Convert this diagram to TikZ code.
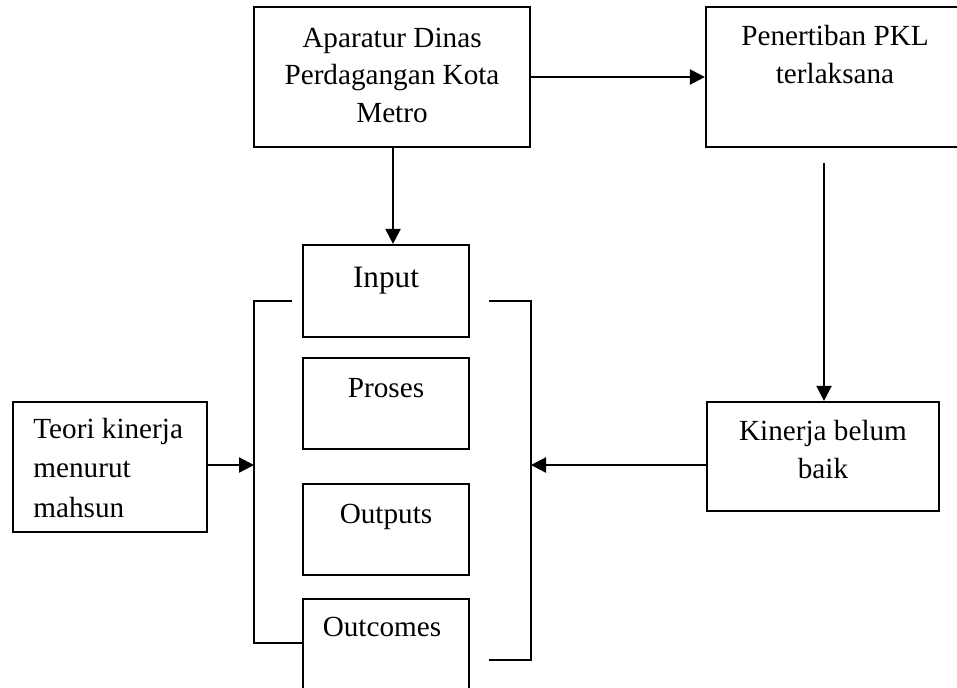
\documentclass[tikz,border=0pt]{standalone}
\usepackage{fontspec}
\setmainfont{Liberation Serif}
\usetikzlibrary{arrows.meta}
\begin{document}
\begin{tikzpicture}[x=0.5pt,y=-0.5pt,
  box/.style={draw,line width=1.1pt,rectangle,inner sep=0pt},
  txt/.style={inner sep=0pt,anchor=base,font=\fontsize{14.6pt}{18.75pt}\selectfont},
  big/.style={font=\fontsize{15.6pt}{18.75pt}\selectfont},
  arr/.style={line width=1.1pt,-{Triangle[length=7.5pt,width=7.5pt]}},
  ln/.style={line width=1.1pt}]
\useasboundingbox (0,0) rectangle (957,687);
\clip (0,0) rectangle (957,687);
% boxes
\node[box,minimum width=138pt,minimum height=70pt] (apar) at (392,77) {};
\node[box,minimum width=129pt,minimum height=70pt] (pen) at (835,77) {};
\node[box,minimum width=83pt,minimum height=46pt] (inp) at (386,291) {};
\node[box,minimum width=83pt,minimum height=45.5pt] (pro) at (386,403.5) {};
\node[box,minimum width=83pt,minimum height=45.5pt] (outp) at (386,529.5) {};
\node[box,minimum width=83pt,minimum height=60pt] (outc) at (386,659) {};
\node[box,minimum width=97pt,minimum height=65pt] (teori) at (110,467) {};
\node[box,minimum width=116pt,minimum height=54.5pt] (kin) at (823,456.5) {};
% texts (base anchor = last line baseline)
\node[txt,align=center] (apart) at (392,122) {Aparatur Dinas\\Perdagangan Kota\\Metro};
\node[txt,align=center] (pent) at (835,83) {Penertiban PKL\\terlaksana};
\node[txt,big] (inpt) at (386,287) {Input};
\node[txt] (prot) at (386,397) {Proses};
\node[txt] (outpt) at (386,523) {Outputs};
\node[txt] (outct) at (382,636) {Outcomes};
\node[txt,align=left,anchor=base west,font=\fontsize{14.6pt}{19.75pt}\selectfont] (teorit) at (33,517) {Teori kinerja\\menurut\\mahsun};
\node[txt,align=center] (kint) at (823,478) {Kinerja belum\\baik};
% brackets
\coordinate (lbt) at (292,301);
\coordinate (lb) at (254,465);
\coordinate (rbt) at (489,301);
\coordinate (rb) at (531,465);
\coordinate (rbb) at (489,660);
\draw[ln] (lbt) -- (254,301) -- (254,643) -- (outc.west |- 0,643);
\draw[ln] (rbt) -- (531,301) -- (531,660) -- (rbb);
% connectors
\draw[arr] (apar.east) -- (pen.west);
\draw[arr] (apar.south -| 393,0) -- (inp.north -| 393,0);
\coordinate (pstart) at (824,163);
\draw[arr] (pstart) -- (pstart |- kin.north);
\draw[arr] (teori.east |- lb) -- (lb);
\coordinate (kinarr) at (707,465);
\draw[arr] (kinarr) -- (rb);
\end{tikzpicture}
\end{document}
